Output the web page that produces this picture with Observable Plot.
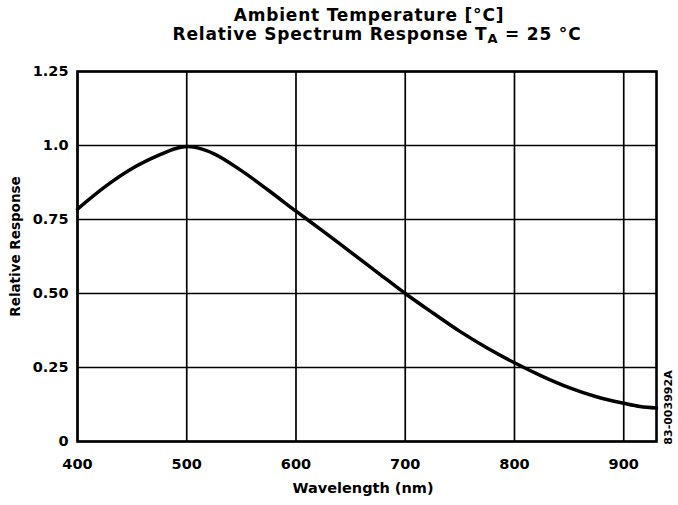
<!DOCTYPE html>
<html><head><meta charset="utf-8">
<script src="https://cdn.jsdelivr.net/npm/d3@7"></script>
<script src="https://cdn.jsdelivr.net/npm/@observablehq/plot@0.6"></script>
<style>body{margin:0;background:#fff} svg{display:block}</style>
</head><body><div id="chart"></div>
<script>
const wavelength = [400,425,450,475,490,500,510,525,550,575,600,625,650,675,700,725,750,775,800,825,850,875,900,915,930];
const response   = [0.785,0.86,0.922,0.968,0.99,0.997,0.992,0.972,0.915,0.848,0.778,0.71,0.64,0.57,0.5,0.435,0.372,0.316,0.266,0.221,0.182,0.151,0.129,0.118,0.113];
const xTicks = [400,500,600,700,800,900];
const xTickLabels = ["400","500","600","700","800","900"];
const yTicks = [0,0.25,0.5,0.75,1,1.25];
const yTickLabels = ["0","0.25","0.50","0.75","1.0","1.25"];
const titleLine1 = "Ambient Temperature [°C]";
const titleLine2 = "Relative Spectrum Response T";
const titleSub = "A";
const titleTail = " = 25 °C";
const xLabel = "Wavelength (nm)";
const yLabel = "Relative Response";
const codeLabel = "83-003992A";

const data = wavelength.map((w, i) => ({w, r: response[i]}));
const font = "'DejaVu Sans', 'Liberation Sans', sans-serif";

const plot = Plot.plot({
  width: 678, height: 505,
  marginTop: 71, marginBottom: 64, marginLeft: 77, marginRight: 22,
  style: {fontFamily: font, fontWeight: "bold", fontSize: "14.5px", color: "#000", background: "#fff"},
  x: {domain: [400, 930]},
  y: {domain: [0, 1.25]},
  marks: [
    Plot.gridX(xTicks, {stroke: "#000", strokeOpacity: 1, strokeWidth: 1.7}),
    Plot.gridY(yTicks, {stroke: "#000", strokeOpacity: 1, strokeWidth: 1.7}),
    Plot.frame({stroke: "#000", strokeWidth: 2.6}),
    Plot.axisX(xTicks, {tickSize: 0, tickPadding: 17, label: null,
      tickFormat: d => xTickLabels[xTicks.indexOf(d)]}),
    Plot.axisY(yTicks, {tickSize: 0, tickPadding: 9, label: null,
      tickFormat: d => yTickLabels[yTicks.indexOf(d)]}),
    Plot.line(data, {x: "w", y: "r", stroke: "#000", strokeWidth: 3.5, curve: "monotone-x"}),
    Plot.text([xLabel], {frameAnchor: "bottom", dy: 51, dx: -4, fontSize: 14.5, letterSpacing: 0.6}),
    Plot.text([yLabel], {frameAnchor: "left", textAnchor: "middle", dx: -62, dy: -10, rotate: -90, fontSize: 13.5}),
    Plot.text([codeLabel], {frameAnchor: "right", textAnchor: "middle", dx: 12, dy: 151, rotate: -90, fontSize: 11})
  ]
});

const svg = d3.select(plot);
svg.append("text")
  .attr("x", 369).attr("y", 21).attr("text-anchor", "middle")
  .attr("font-size", 17).attr("letter-spacing", 0.8).attr("fill", "#000")
  .text(titleLine1);
const t2 = svg.append("text")
  .attr("x", 377).attr("y", 40).attr("text-anchor", "middle")
  .attr("font-size", 17).attr("letter-spacing", 0.8).attr("fill", "#000");
t2.append("tspan").text(titleLine2);
t2.append("tspan").attr("font-size", 13).attr("dy", 3).text(titleSub);
t2.append("tspan").attr("dy", -3).text(titleTail);

document.getElementById("chart").append(plot);
</script>
</body></html>
